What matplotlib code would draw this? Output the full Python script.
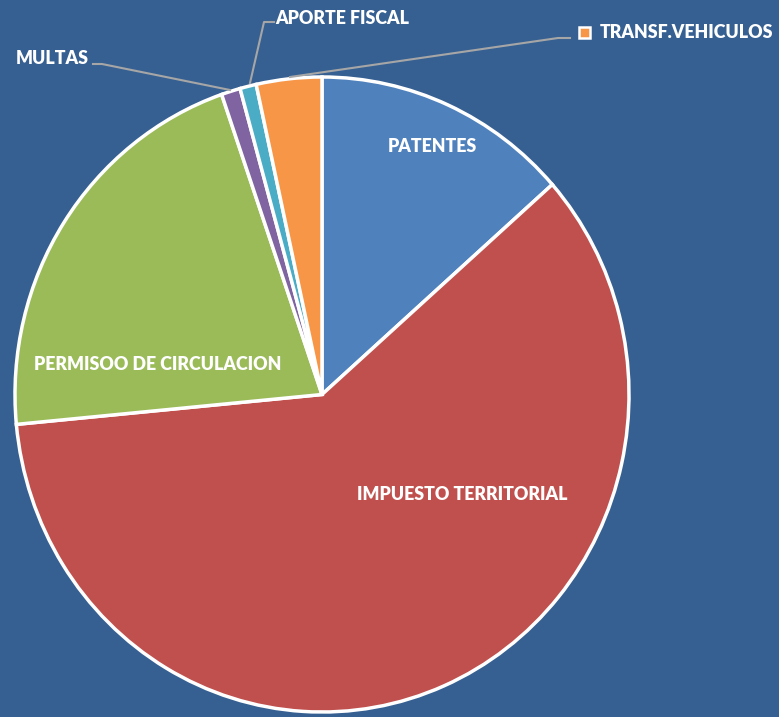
import matplotlib
matplotlib.use("Agg")
import matplotlib.pyplot as plt
from matplotlib.patches import Rectangle

categories = ["PATENTES", "IMPUESTO TERRITORIAL", "PERMISOO DE CIRCULACION",
              "MULTAS", "APORTE FISCAL", "TRANSF.VEHICULOS"]
values = [13.5, 60.0, 21.2, 1.0, 0.86, 3.44]
colors = ["#4F81BD", "#C0504D", "#9BBB59", "#8064A2", "#4BACC6", "#F79646"]

W, H = 779, 717
CX, CY, RX, RY = 322, 394.5, 307, 317.5
BG = "#366092"

def px(x, y):
    return ((x - CX) / RX, (CY - y) / RY)

fig = plt.figure(figsize=(W / 100, H / 100), dpi=100, facecolor=BG)
ax = fig.add_axes([0, 0, 1, 1])
ax.set_facecolor(BG)

ax.pie(values, colors=colors, startangle=90, counterclock=False,
       radius=1, center=(0, 0),
       wedgeprops=dict(edgecolor="white", linewidth=2.5))
ax.set_aspect("auto")
ax.set_xlim(px(0, 0)[0], px(W, 0)[0])
ax.set_ylim(px(0, H)[1], px(0, 0)[1])
ax.axis("off")

font = dict(color="white", fontweight="heavy", family=["Lato", "DejaVu Sans"], fontsize=12.8)

# inside labels
ax.text(*px(432, 147), categories[0], ha="center", va="center", **font)
ax.text(*px(462, 494), categories[1], ha="center", va="center", **font)
ax.text(*px(158, 364), categories[2], ha="center", va="center", **font)

# outside labels with leader lines
lc = "#A6A6A6"
ax.text(*px(52, 58), categories[3], ha="center", va="center", **font)
ax.plot(*zip(px(93, 64), px(102, 64), px(230, 90)), color=lc, lw=1.5)

ax.text(*px(342, 18), categories[4], ha="center", va="center", **font)
ax.plot(*zip(px(274, 22), px(264, 22), px(250, 83)), color=lc, lw=1.5)

ax.text(*px(600, 32), categories[5], ha="left", va="center", **font)
ax.plot(*zip(px(570, 38), px(558, 38), px(290, 77)), color=lc, lw=1.5)
# small legend key square
x0, y0 = px(579, 27)
x1, y1 = px(590, 38)
ax.add_patch(Rectangle((x0, y1), x1 - x0, y0 - y1, facecolor=colors[5],
                       edgecolor="white", lw=1.8))

fig.savefig("out.png", dpi=100, facecolor=BG)
